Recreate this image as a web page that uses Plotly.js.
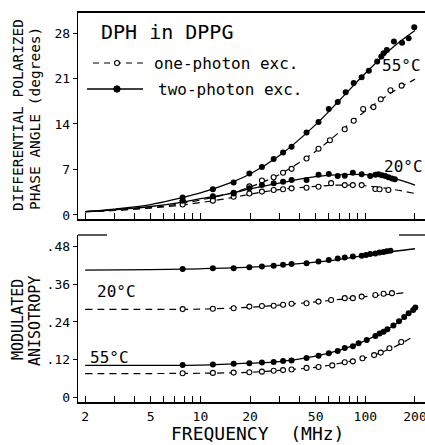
<!DOCTYPE html>
<html>
<head>
<meta charset="utf-8">
<script src="https://cdn.plot.ly/plotly-3.0.1.min.js"></script>
<style>html,body{margin:0;padding:0;background:#fff;}#chart{width:425px;height:445px;}</style>
</head>
<body>
<div id="chart"></div>
<script>
// ---------- data ----------
// Top panel: differential polarized phase angle (degrees)
const phase55TwoF = [7.8,11.9,15.9,19.8,23.6,27.8,31.7,35.7,44,52,60,68,76,85,95,105,118,125,129,135,149,167,183,198];
const phase55TwoV = [2.7,3.95,5.0,6.4,7.4,8.6,9.6,10.5,12.7,14.3,16.3,17.4,18.9,20.3,21.2,22.2,23.6,24.4,24.9,25.4,26.7,26.5,27.2,28.9];
const phase55OneF = [7.8,11.9,15.9,19.8,23.6,27.8,31.7,35.7,44,52,61,75,85,97,112,124,142,166];
const phase55OneV = [2.1,2.7,3.4,4.4,5.3,5.8,6.5,7.1,8.7,10.2,11.5,13.2,14.5,16.3,16.6,17.8,19.2,19.9];
const phase20TwoF = [7.8,11.9,15.9,19.8,23.6,27.8,31.7,35.7,44,52,60,68,75,84,95,107,115,120,126,132,138,145,151];
const phase20TwoV = [2.2,2.9,3.3,4.1,4.6,4.9,5.1,5.4,5.4,6.2,6.3,6.0,6.05,6.5,6.25,6.0,6.2,6.25,6.1,6.0,5.8,5.6,5.5];
const phase20OneF = [7.8,11.9,15.9,19.8,23.6,27.8,31.7,35.7,44,52,62,75,84,95,115,122,138];
const phase20OneV = [1.6,2.2,2.8,3.3,3.6,3.85,3.95,4.1,4.2,4.35,4.9,4.6,4.6,4.6,4.0,3.95,3.85];
// Top panel fitted curves
const phaseFitF = [2,3,5,7,10,15,20,30,50,70,100,150,200];
const phaseFit55Two = [0.5,0.9,1.6,2.4,3.4,4.9,6.3,9.1,13.9,17.7,21.8,26.0,28.4];
const phaseFit55One = [0.5,0.7,1.1,1.6,2.3,3.3,4.3,6.2,9.8,12.8,16.0,19.1,20.9];
const phaseFit20Two = [0.5,0.8,1.3,1.8,2.5,3.3,4.0,4.9,5.9,6.2,6.2,5.6,4.6];
const phaseFit20One = [0.5,0.7,1.1,1.4,1.9,2.6,3.2,3.9,4.4,4.6,4.5,3.9,3.3];

// Bottom panel: modulated anisotropy
const aniso20TwoF = [7.8,11.9,15.9,19.8,23.6,27.8,31.7,35.7,44,52,60,68,75,84,95,101,107,115,122,129,135,142];
const aniso20TwoV = [0.409,0.412,0.412,0.415,0.417,0.42,0.423,0.425,0.428,0.433,0.438,0.443,0.446,0.449,0.452,0.454,0.457,0.459,0.462,0.464,0.466,0.468];
const aniso20OneF = [7.8,11.9,15.9,19.8,23.6,27.8,31.7,35.7,44,52,62,75,84,95,115,129,145];
const aniso20OneV = [0.281,0.282,0.284,0.289,0.291,0.292,0.295,0.298,0.300,0.305,0.31,0.316,0.316,0.321,0.326,0.330,0.332];
const aniso55TwoF = [7.8,11.9,15.9,19.8,23.6,27.8,31.7,35.7,44,52,60,68,75,84,91,102,115,122,129,136,148,160,172,183,195,201];
const aniso55TwoV = [0.102,0.104,0.106,0.108,0.110,0.112,0.115,0.117,0.125,0.132,0.140,0.147,0.157,0.162,0.172,0.182,0.195,0.203,0.209,0.217,0.229,0.242,0.256,0.268,0.278,0.286];
const aniso55OneF = [7.8,11.9,15.9,19.8,23.6,27.8,31.7,35.7,44,52,63,75,84,96,113,124,140,165];
const aniso55OneV = [0.076,0.077,0.078,0.079,0.081,0.084,0.086,0.088,0.093,0.096,0.101,0.111,0.114,0.124,0.134,0.142,0.156,0.176];
// Bottom panel fitted curves
const anisoFitF = [2,5,10,20,30,50,70,100,150,200];
const anisoFit20Two = [0.406,0.407,0.410,0.415,0.421,0.431,0.440,0.453,0.466,0.474];
const anisoFit20OneF = [2,5,10,20,30,50,70,100,150,180];
const anisoFit20One = [0.280,0.280,0.281,0.287,0.294,0.304,0.312,0.321,0.330,0.334];
const anisoFit55Two = [0.101,0.101,0.102,0.108,0.113,0.131,0.150,0.180,0.230,0.285];
const anisoFit55One = [0.075,0.075,0.076,0.079,0.085,0.095,0.108,0.125,0.160,0.197];

// Tick labels
const xTickVals = [2,3,4,5,6,7,8,9,10,20,30,40,50,60,70,80,90,100,200];
const xTickText = ['2','','','5','','','','','10','20','','','50','','','','','100','200'];
const phaseTickVals = [0,7,14,21,28];
const phaseTickText = ['0','7','14','21','28'];
const anisoTickVals = [0,0.12,0.24,0.36,0.48];
const anisoTickText = ['0','.12','.24','.36','.48'];

// ---------- styling ----------
const FONT = 'DejaVu Sans Mono, monospace';
const solid = {color:'#000', width:1.3, shape:'spline'};
const dashed = {color:'#000', width:1.2, dash:'7px,5px', shape:'spline'};
const filled = {symbol:'circle', size:6, color:'#000'};
const open = {symbol:'circle-open', size:5, color:'#000', line:{width:1.1, color:'#000'}};

function lineTrace(x, y, line, xa, ya){ return {x:x, y:y, mode:'lines', line:line, xaxis:xa, yaxis:ya, hoverinfo:'skip'}; }
function markTrace(x, y, marker, xa, ya){
  const m = Object.assign({}, marker);
  if (marker.symbol === 'circle-open') { m.symbol = 'circle'; m.color = '#fff'; m.line = {width:1.1, color:'#000'}; }
  return {x:x, y:y, mode:'markers', marker:m, xaxis:xa, yaxis:ya};
}

const traces = [
  lineTrace(phaseFitF, phaseFit55One, dashed, 'x', 'y'),
  lineTrace(phaseFitF, phaseFit20One, dashed, 'x', 'y'),
  lineTrace(phaseFitF, phaseFit55Two, solid, 'x', 'y'),
  lineTrace(phaseFitF, phaseFit20Two, solid, 'x', 'y'),
  markTrace(phase55OneF, phase55OneV, open, 'x', 'y'),
  markTrace(phase20OneF, phase20OneV, open, 'x', 'y'),
  markTrace(phase55TwoF, phase55TwoV, filled, 'x', 'y'),
  markTrace(phase20TwoF, phase20TwoV, filled, 'x', 'y'),

  lineTrace(anisoFitF, anisoFit55One, dashed, 'x2', 'y2'),
  lineTrace(anisoFit20OneF, anisoFit20One, dashed, 'x2', 'y2'),
  lineTrace(anisoFitF, anisoFit55Two, solid, 'x2', 'y2'),
  lineTrace(anisoFitF, anisoFit20Two, solid, 'x2', 'y2'),
  markTrace(aniso55OneF, aniso55OneV, open, 'x2', 'y2'),
  markTrace(aniso20OneF, aniso20OneV, open, 'x2', 'y2'),
  markTrace(aniso55TwoF, aniso55TwoV, filled, 'x2', 'y2'),
  markTrace(aniso20TwoF, aniso20TwoV, filled, 'x2', 'y2')
];

// pixel -> paper helpers (plot area: x 78..425, y 13..402)
const L = 78, W = 347, T = 13, B = 402, H = B - T;
const px = x => (x - L) / W;
const py = y => (B - y) / H;

const xCommon = {
  type:'log', range:[Math.log10(1.81), Math.log10(230)],
  showgrid:false, zeroline:false, showline:true, linecolor:'#000',
  ticks:'inside', ticklen:6, tickwidth:1, tickcolor:'#000',
  tickvals:xTickVals, ticktext:xTickText, ticklabeloverflow:'allow',
  tickfont:{family:FONT, size:13, color:'#000'}
};

function ann(text, x, y, size, extra){
  return Object.assign({text:text, xref:'paper', yref:'paper', x:px(x), y:py(y),
    xanchor:'center', yanchor:'middle', showarrow:false, font:{family:FONT, size:size, color:'#000'}}, extra || {});
}

const layout = {
  width:425, height:445,
  margin:{l:L, r:0, t:T, b:445-B, pad:0},
  paper_bgcolor:'#fff', plot_bgcolor:'#fff',
  showlegend:false,
  font:{family:FONT, color:'#000'},
  xaxis: Object.assign({}, xCommon, {anchor:'y', showticklabels:false, linewidth:2, mirror:true}),
  xaxis2: Object.assign({}, xCommon, {anchor:'y2', linewidth:1.5, ticklabelstandoff:2}),
  yaxis: {domain:[(B-219)/H, 1], anchor:'x', range:[-0.62, 31.08],
    showgrid:false, zeroline:false, showline:true, linecolor:'#000', linewidth:1.3,
    ticks:'outside', ticklen:4, tickcolor:'#000', tickvals:phaseTickVals, ticktext:phaseTickText,
    tickfont:{family:FONT, size:13, color:'#000'}},
  yaxis2: {domain:[0, (B-235)/H], anchor:'x2', range:[-0.016, 0.518],
    showgrid:false, zeroline:false, showline:true, linecolor:'#000', linewidth:1.3,
    ticks:'outside', ticklen:4, tickcolor:'#000', tickvals:anisoTickVals, ticktext:anisoTickText,
    tickfont:{family:FONT, size:13, color:'#000'}},
  shapes: [
    // partial top border of lower panel
    {type:'line', xref:'paper', yref:'paper', x0:0, x1:px(107), y0:py(235), y1:py(235), line:{color:'#000', width:1.3}},
    {type:'line', xref:'paper', yref:'paper', x0:px(399), x1:1, y0:py(235), y1:py(235), line:{color:'#000', width:1.3}},
    // legend symbols
    {type:'line', xref:'paper', yref:'paper', x0:px(93), x1:px(143), y0:py(63), y1:py(63), line:{color:'#000', width:1.2, dash:'6px,5px'}},
    {type:'line', xref:'paper', yref:'paper', x0:px(87), x1:px(143), y0:py(89), y1:py(89), line:{color:'#000', width:1.3}},
    {type:'circle', xref:'paper', yref:'paper', xsizemode:'pixel', ysizemode:'pixel', xanchor:px(117), yanchor:py(63),
      x0:-2.5, x1:2.5, y0:-2.5, y1:2.5, fillcolor:'#fff', line:{color:'#000', width:1.1}},
    {type:'circle', xref:'paper', yref:'paper', xsizemode:'pixel', ysizemode:'pixel', xanchor:px(117), yanchor:py(89),
      x0:-3.2, x1:3.2, y0:-3.2, y1:3.2, fillcolor:'#000', line:{color:'#000', width:1}}
  ],
  annotations: [
    ann('DPH in DPPG', 167, 32, 20),
    ann('one-photon exc.', 152, 63, 16, {xanchor:'left'}),
    ann('two-photon exc.', 156, 89, 16, {xanchor:'left'}),
    ann('55°C', 401, 65, 16),
    ann('20°C', 403, 166, 16),
    ann('20°C', 116, 291, 16),
    ann('55°C', 109, 357, 16),
    ann('FREQUENCY  (MHz)', 257, 434, 18),
    ann('DIFFERENTIAL POLARIZED', 18, 115, 14.5, {textangle:-90}),
    ann('PHASE ANGLE (degrees)', 35, 119, 14.5, {textangle:-90}),
    ann('MODULATED', 18, 320, 15, {textangle:-90}),
    ann('ANISOTROPY', 35, 321, 15, {textangle:-90})
  ]
};

Plotly.newPlot('chart', traces, layout, {staticPlot:true, displayModeBar:false});
</script>
</body>
</html>
